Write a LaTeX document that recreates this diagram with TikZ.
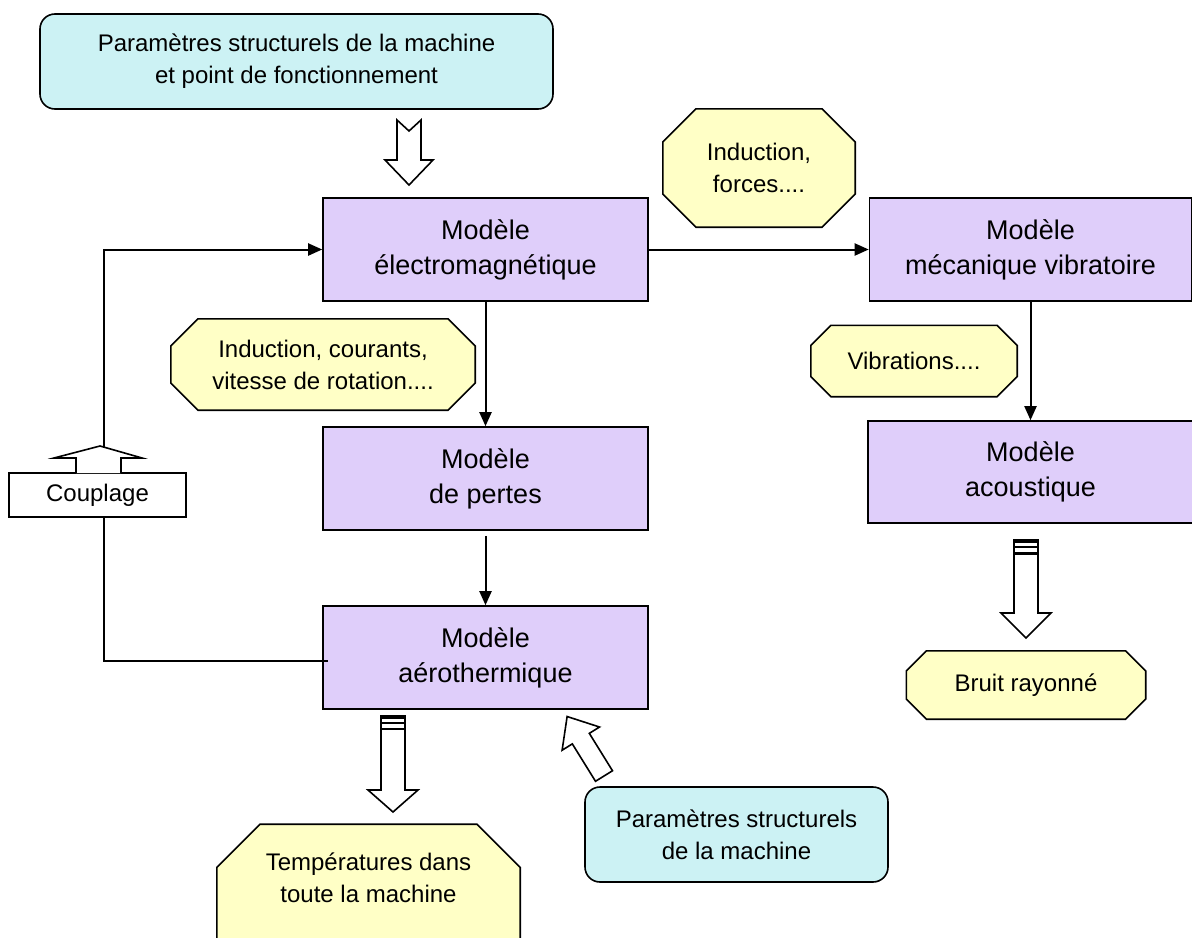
\documentclass[tikz,border=0pt]{standalone}
\usepackage{fontspec}
\setmainfont{Liberation Sans}
\usetikzlibrary{arrows.meta, positioning, calc}

\definecolor{paramcyan}{RGB}{204,242,244}
\definecolor{modelviolet}{RGB}{223,206,250}
\definecolor{resultyellow}{RGB}{255,255,198}

\begin{document}
\begin{tikzpicture}[
x=0.5pt, y=-0.5pt,
chamf/.store in=\chamf, chamf=10pt,
param/.style={rectangle, draw, rounded corners=7.5pt, fill=paramcyan, align=center, line width=0.8pt, font=\fontsize{12}{16}\selectfont},
model/.style={rectangle, draw, fill=modelviolet, align=center, minimum width=162.5pt, minimum height=51.5pt, line width=0.8pt, font=\fontsize{13.5}{17.5}\selectfont},
result/.style={rectangle, align=center, font=\fontsize{12}{16}\selectfont,
  path picture={
    \draw[line width=0.8pt, fill=resultyellow]
      let \p1=(path picture bounding box.south west), \p2=(path picture bounding box.north east) in
      (\x1+\chamf,\y2-0.4pt) -- (\x2-\chamf,\y2-0.4pt) -- (\x2-0.4pt,\y2-\chamf) -- (\x2-0.4pt,\y1+\chamf)
      -- (\x2-\chamf,\y1+0.4pt) -- (\x1+\chamf,\y1+0.4pt) -- (\x1+0.4pt,\y1+\chamf) -- (\x1+0.4pt,\y2-\chamf) -- cycle;
  }},
arrow/.style={-{Triangle[length=7pt,width=6pt]}, line width=1pt},
bigarrow/.style={draw, fill=white, line width=0.8pt}
]
\clip (0,0) rectangle (1192,937);

% inputs
\node[param, minimum width=256.5pt, minimum height=47.5pt] (inputs) at (296.5,61.5) {Paramètres structurels de la machine\\et point de fonctionnement};
\draw[bigarrow] (397,120) -- (409,131) -- (421,120) -- (421,160) -- (433,160) -- (409,185) -- (385,160) -- (397,160) -- cycle;

% models
\node[model] (elec) at (485.5,249.5) {Modèle\\électromagnétique};
\node[model] (pertes) at (485.5,478.5) {Modèle\\de pertes};
\node[model] (aero) at (485.5,657.5) {Modèle\\aérothermique};
\node[model, minimum width=161pt] (meca) at (1030.5,249.5) {Modèle\\mécanique vibratoire};
\node[model, minimum height=51pt] (acou) at (1030.5,472) {Modèle\\acoustique};

% exchanged quantities
\node[result, chamf=17pt, minimum width=97pt, minimum height=60pt] (forces) at (759,168) {Induction,\\forces....};
\node[result, chamf=14pt, minimum width=153pt, minimum height=46.5pt] (courants) at (323,364.5) {Induction, courants,\\vitesse de rotation....};
\node[result, chamf=10.5pt, minimum width=104pt, minimum height=36.5pt] (vib) at (914,361) {Vibrations....};
\node[result, chamf=10.5pt, minimum width=120.5pt, minimum height=35pt] (bruit) at (1026,685) {Bruit rayonné};
\node[result, chamf=22pt, minimum width=152.5pt, minimum height=80pt, text depth=26pt, anchor=north] (temp) at (368.5,823) {Températures dans\\toute la machine};

\node[param, minimum width=151.5pt, minimum height=47.5pt] (struct) at (736.5,834.5) {Paramètres structurels\\de la machine};

% couplage
\node[rectangle, draw, fill=white, line width=0.8pt, minimum width=88.5pt, minimum height=22pt, font=\fontsize{12}{16}\selectfont] (coupl) at (97.5,495) {Couplage};
\draw[bigarrow] (76,473) -- (76,458) -- (54,458) -- (100,446) -- (142,458) -- (121,458) -- (121,473);
\coordinate (fbTop) at (104,447);
\coordinate (fbBot) at (104,517);

% flows
\draw[arrow] (elec) -- (meca);
\draw[arrow] (elec) -- (pertes);
\draw[arrow] ([yshift=-2.5pt]pertes.south) -- (aero);
\draw[arrow] (meca) -- (acou);
\draw[arrow] (fbTop) |- (elec.west);
\draw[line width=1pt] (fbBot) |- ([xshift=3pt,yshift=-1.5pt]aero.west);

% hollow arrows
\draw[bigarrow] (381,716) -- (405,716) -- (405,790) -- (418,790) -- (393,812) -- (368,790) -- (381,790) -- cycle;
\fill (381,716) rectangle (405,719);
\fill (381,722) rectangle (405,724);
\fill (381,728) rectangle (405,730);

\draw[bigarrow] (1014,540) -- (1038,540) -- (1038,613) -- (1051,613) -- (1026,638) -- (1001,613) -- (1014,613) -- cycle;
\fill (1014,540) rectangle (1038,543);
\fill (1014,546) rectangle (1038,548);
\fill (1014,552) rectangle (1038,555);

\begin{scope}[shift={(604,776)}, rotate=121.8]
\draw[bigarrow] (0,-10) -- (44,-10) -- (44,-22) -- (70,0) -- (44,22) -- (44,10) -- (0,10) -- cycle;
\end{scope}

\end{tikzpicture}
\end{document}
